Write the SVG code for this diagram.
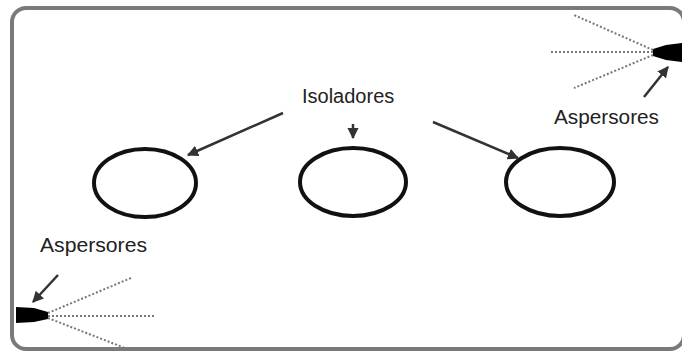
<svg xmlns="http://www.w3.org/2000/svg" width="682" height="355" viewBox="0 0 682 355">
  <defs>
    <marker id="head" viewBox="0 0 10 10" refX="9" refY="5" markerWidth="4.5" markerHeight="4.5" orient="auto" markerUnits="strokeWidth">
      <path d="M0,0 L10,5 L0,10 z" fill="#333"/>
    </marker>
    <style>
      .frame { fill: #fff; stroke: #7a7a7a; stroke-width: 4; }
      .insulator { fill: none; stroke: #111; stroke-width: 4; }
      .label { font-family: "Liberation Sans", Arial, sans-serif; font-size: 20px; fill: #222; }
      .arrow { stroke: #333; stroke-width: 2.5; fill: none; marker-end: url(#head); }
      .spray { stroke: #777; stroke-width: 2; stroke-dasharray: 2 2; fill: none; }
      .nozzle { fill: #000; }
    </style>
  </defs>

  <rect width="682" height="355" fill="#fff"/>
  <rect class="frame" x="12" y="8" width="672" height="341" rx="14" ry="14"/>

  <!-- insulators -->
  <g id="insulator-left"><ellipse class="insulator" cx="145" cy="183" rx="51" ry="34"/></g>
  <g id="insulator-center"><ellipse class="insulator" cx="353" cy="182" rx="53" ry="34"/></g>
  <g id="insulator-right"><ellipse class="insulator" cx="560" cy="182" rx="54" ry="34"/></g>

  <g id="label-isoladores"><text class="label" x="302" y="103">Isoladores</text></g>

  <!-- top-right sprinkler -->
  <g id="sprinkler-top">
    <path class="nozzle" d="M682,43 L666,45 L653,49 L653,56 L666,60 L682,62 z"/>
    <line class="spray" x1="653" y1="50" x2="574" y2="15"/>
    <line class="spray" x1="653" y1="52" x2="550" y2="52"/>
    <line class="spray" x1="653" y1="55" x2="574" y2="88"/>
    <text class="label" x="554" y="124" textLength="105" lengthAdjust="spacingAndGlyphs">Aspersores</text>
  </g>

  <!-- bottom-left sprinkler -->
  <g id="sprinkler-bottom">
    <path class="nozzle" d="M16,307 L34,308 L48,312 L48,319 L34,322 L16,323 z"/>
    <line class="spray" x1="48" y1="313" x2="131" y2="278"/>
    <line class="spray" x1="48" y1="316" x2="154" y2="316"/>
    <line class="spray" x1="48" y1="318" x2="130" y2="350"/>
    <text class="label" x="40" y="252" textLength="107" lengthAdjust="spacingAndGlyphs">Aspersores</text>
  </g>

  <!-- pointers -->
  <g id="connectors">
    <line class="arrow" x1="283" y1="113" x2="188" y2="155"/>
    <line class="arrow" x1="353" y1="124" x2="353" y2="138"/>
    <line class="arrow" x1="433" y1="122" x2="518" y2="158"/>
    <line class="arrow" x1="644" y1="97" x2="668" y2="67"/>
    <line class="arrow" x1="58" y1="275" x2="33" y2="302"/>
  </g>
</svg>
